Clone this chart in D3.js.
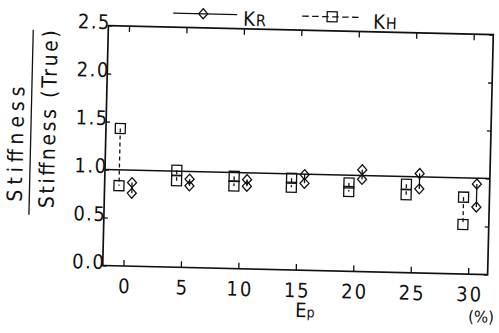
<!DOCTYPE html>
<html>
<head>
<meta charset="utf-8">
<script src="https://cdn.jsdelivr.net/npm/d3@7"></script>
<style>
    body { margin: 0; background: #fff; }
    svg { display: block; }
    text { font-family: "DejaVu Sans Condensed", "DejaVu Sans", sans-serif; font-stretch: condensed; fill: #111; }
</style>
</head>
<body>
<svg id="chart" width="499" height="333"></svg>
<script>
"use strict";
// values
const ep = [0, 5, 10, 15, 20, 25, 30];
const kHUpper = [1.43, 1.01, 0.96, 0.955, 0.92, 0.92, 0.80];
const kHLower = [0.835, 0.90, 0.86, 0.86, 0.83, 0.81, 0.515];
const kRUpper = [0.87, 0.92, 0.93, 0.995, 1.06, 1.035, 0.94];
const kRLower = [0.76, 0.85, 0.86, 0.905, 0.96, 0.875, 0.70];
const xTicks = [0, 5, 10, 15, 20, 25, 30];
const yTicks = [0, 0.5, 1.0, 1.5, 2.0, 2.5];
const refValue = 1.0;

const ink = '#111';
const svg = d3.select('#chart');
svg.append('rect').attr('width', 499).attr('height', 333).attr('fill', '#fff');

// the scan is tilted a little clockwise
const g = svg.append('g').attr('transform', 'rotate(1.35, 297, 150)');

const x = d3.scaleLinear().domain([-1.8, 31.7]).range([105.5, 490.5]);
const y = d3.scaleLinear().domain([0, 2.5]).range([270, 30]);
const hOffset = -0.55, rOffset = 0.58;

const styleAxis = (sel) => {
    sel.select('.domain').remove();
    sel.selectAll('.tick line').attr('stroke', ink).attr('stroke-width', 1.3);
    sel.selectAll('text').attr('fill', ink).style('font-size', '20px').style('letter-spacing', '2px');
}

g.append('g')
    .attr('transform', `translate(0,${y(0)})`)
    .call(d3.axisBottom(x).tickValues(xTicks).tickSizeInner(-6).tickSizeOuter(0).tickPadding(13).tickFormat(d3.format('d')))
    .call(styleAxis)
    .selectAll('text').attr('dx', '1.5px');

g.append('g')
    .attr('transform', `translate(0,${y(2.5)})`)
    .call(d3.axisTop(x).tickValues(xTicks).tickSizeInner(-6).tickSizeOuter(0).tickFormat(''))
    .call(styleAxis);

g.append('g')
    .attr('transform', `translate(${x(-1.8)},0)`)
    .call(d3.axisLeft(y).tickValues(yTicks).tickSizeInner(-4).tickSizeOuter(0).tickPadding(-2.5).tickFormat(d3.format('.1f')))
    .call(styleAxis)
    .selectAll('text').attr('dy', '0.15em').style('letter-spacing', '1.5px');

g.append('g')
    .attr('transform', `translate(${x(31.7)},0)`)
    .call(d3.axisRight(y).tickValues(yTicks).tickSizeInner(-4).tickSizeOuter(0).tickFormat(''))
    .call(styleAxis);

// frame
g.append('rect')
    .attr('x', x(-1.8)).attr('y', y(2.5))
    .attr('width', x(31.7) - x(-1.8)).attr('height', y(0) - y(2.5))
    .attr('fill', 'none').attr('stroke', ink).attr('stroke-width', 1.7);

// reference line at 1.0
g.append('line')
    .attr('x1', x(-1.8)).attr('x2', x(31.7))
    .attr('y1', y(refValue)).attr('y2', y(refValue))
    .attr('stroke', ink).attr('stroke-width', 1.5);

const squarePath = (s) => `M${-s / 2},${-s / 2}h${s}v${s}h${-s}Z`;
const diamondPath = (w, h) => `M0,${-h / 2}L${w / 2},0L0,${h / 2}L${-w / 2},0Z`;

const drawSeries = (upper, lower, offset, dash, shape) => {
    const rows = ep.map((e, i) => ({ e, hi: upper[i], lo: lower[i] }));
    g.append('g').selectAll('line')
        .data(rows)
        .enter()
        .append('line')
        .attr('x1', d => x(d.e + offset)).attr('x2', d => x(d.e + offset))
        .attr('y1', d => y(d.hi)).attr('y2', d => y(d.lo))
        .attr('stroke', ink).attr('stroke-width', 1.3)
        .attr('stroke-dasharray', dash);
    const pts = rows.flatMap(d => [[d.e, d.hi], [d.e, d.lo]]);
    g.append('g').selectAll('path')
        .data(pts)
        .enter()
        .append('path')
        .attr('d', shape)
        .attr('transform', d => `translate(${x(d[0] + offset)},${y(d[1])})`)
        .attr('fill', 'none').attr('stroke', ink).attr('stroke-width', 1.3);
}

drawSeries(kHUpper, kHLower, hOffset, '4,3', squarePath(10));
drawSeries(kRUpper, kRLower, rOffset, null, diamondPath(9, 10));

// legend
const legend = g.append('g');
legend.append('line').attr('x1', 170).attr('x2', 234).attr('y1', 16).attr('y2', 16)
    .attr('stroke', ink).attr('stroke-width', 1.3);
legend.append('path').attr('d', diamondPath(9, 10)).attr('transform', 'translate(200,16)')
    .attr('fill', 'none').attr('stroke', ink).attr('stroke-width', 1.3);
legend.append('line').attr('x1', 299).attr('x2', 359).attr('y1', 16).attr('y2', 16)
    .attr('stroke', ink).attr('stroke-width', 1.3).attr('stroke-dasharray', '6.5,3.5');
legend.append('path').attr('d', squarePath(10)).attr('transform', 'translate(329,16)')
    .attr('fill', 'none').attr('stroke', ink).attr('stroke-width', 1.3);

const kR = legend.append('text').attr('x', 240).attr('y', 27).style('font-size', '20px');
kR.append('tspan').text('K');
kR.append('tspan').attr('dx', '1').style('font-size', '16px').text('R');
const kH = legend.append('text').attr('x', 370).attr('y', 27).style('font-size', '20px');
kH.append('tspan').text('K');
kH.append('tspan').attr('dx', '1').style('font-size', '16px').text('H');

// axis titles
const ept = g.append('text').attr('x', 299).attr('y', 317).style('font-size', '20px');
ept.append('tspan').text('E');
ept.append('tspan').style('font-size', '14px').text('p');

g.append('text').attr('x', 472).attr('y', 318)
    .attr('textLength', 26).attr('lengthAdjust', 'spacingAndGlyphs')
    .style('font-size', '16px').text('(%)');

g.append('text')
    .attr('transform', 'translate(23,150.7) rotate(-90)')
    .attr('text-anchor', 'middle')
    .attr('textLength', 115).attr('lengthAdjust', 'spacing')
    .style('font-size', '21px')
    .text('Stiffness');

g.append('line')
    .attr('x1', 30.5).attr('x2', 30.5).attr('y1', 36).attr('y2', 221)
    .attr('stroke', ink).attr('stroke-width', 1.3);

g.append('text')
    .attr('transform', 'translate(55,125) rotate(-90)')
    .attr('text-anchor', 'middle')
    .attr('textLength', 178).attr('lengthAdjust', 'spacing')
    .style('font-size', '21px')
    .text('Stiffness (True)');
</script>
</body>
</html>
